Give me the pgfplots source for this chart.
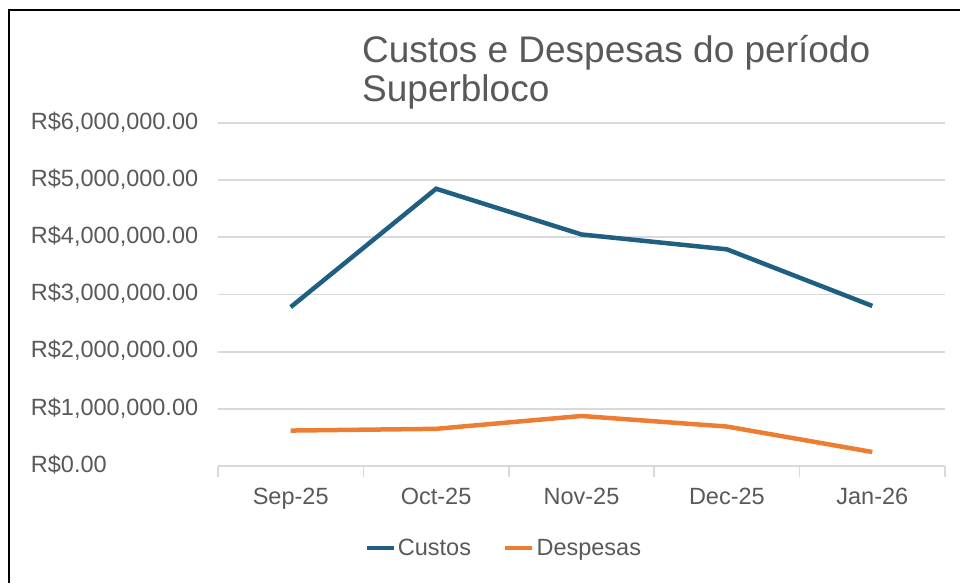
\documentclass[border=0pt]{standalone}
\usepackage{pgfplots}
\pgfplotsset{compat=1.18}
\usepackage{fontspec}
\setmainfont{Liberation Sans}
\definecolor{custos}{HTML}{1F5F82}
\definecolor{despesas}{HTML}{ED7D31}
\definecolor{txt}{HTML}{595959}
\definecolor{grid}{HTML}{D9D9D9}
\begin{document}
\begin{tikzpicture}
\path[use as bounding box] (0,0) rectangle (960pt,583pt);
\draw[line width=2.5pt,black] (9pt,0) -- (9pt,573pt) -- (960pt,573pt);
\node[anchor=base west,text=txt,inner sep=0pt,font=\fontsize{37}{44}\selectfont] at (362pt,520pt) {Custos e Despesas do período};
\node[anchor=base west,text=txt,inner sep=0pt,font=\fontsize{37}{44}\selectfont] at (362pt,481pt) {Superbloco};
\begin{axis}[
  at={(218pt,117pt)}, anchor=south west,
  scale only axis, width=727pt, height=343pt,
  xmin=-0.5, xmax=4.5, ymin=0, ymax=6000000,
  scaled y ticks=false,
  xtick={0,1,2,3,4},
  xticklabels={Sep-25,Oct-25,Nov-25,Dec-25,Jan-26},
  minor xtick={-0.5,0.5,1.5,2.5,3.5,4.5},
  ytick={0,1000000,2000000,3000000,4000000,5000000,6000000},
  yticklabels={{R\$0.00},{R\$1,000,000.00},{R\$2,000,000.00},{R\$3,000,000.00},{R\$4,000,000.00},{R\$5,000,000.00},{R\$6,000,000.00}},
  axis x line*=bottom, axis y line*=left,
  x axis line style={draw=grid,line width=1.5pt,-},
  y axis line style={draw=none},
  ymajorgrids, major grid style={draw=grid,line width=1.8pt},
  major x tick style={draw=none},
  ytick style={draw=none},
  minor x tick style={draw=grid,line width=1.5pt},
  minor tick length=11pt, tick align=outside,
  /pgf/number format/assume math mode=true,
  ticklabel style={font=\fontsize{23.5}{28}\selectfont,text=txt,inner sep=0pt},
  yticklabel style={anchor=west,xshift=-183pt,yshift=1pt},
  xticklabel style={anchor=north,yshift=-18pt},
  legend columns=2,
  legend style={draw=none,fill=none,at={(0.393,-0.239)},anchor=center,
    font=\fontsize{23.5}{28}\selectfont,text=txt,
    /tikz/every even column/.append style={column sep=30pt},
    inner sep=0pt},
  legend image code/.code={\draw[#1,line width=4.5pt] (0pt,0pt) -- (27pt,0pt);},
  clip=false,
]
\addplot[custos,line width=4.5pt] coordinates {(0,2780000) (1,4850000) (2,4050000) (3,3790000) (4,2800000)};
\addlegendentry{Custos}
\addplot[despesas,line width=4.5pt] coordinates {(0,620000) (1,650000) (2,875000) (3,690000) (4,245000)};
\addlegendentry{Despesas}
\end{axis}
\end{tikzpicture}
\end{document}
